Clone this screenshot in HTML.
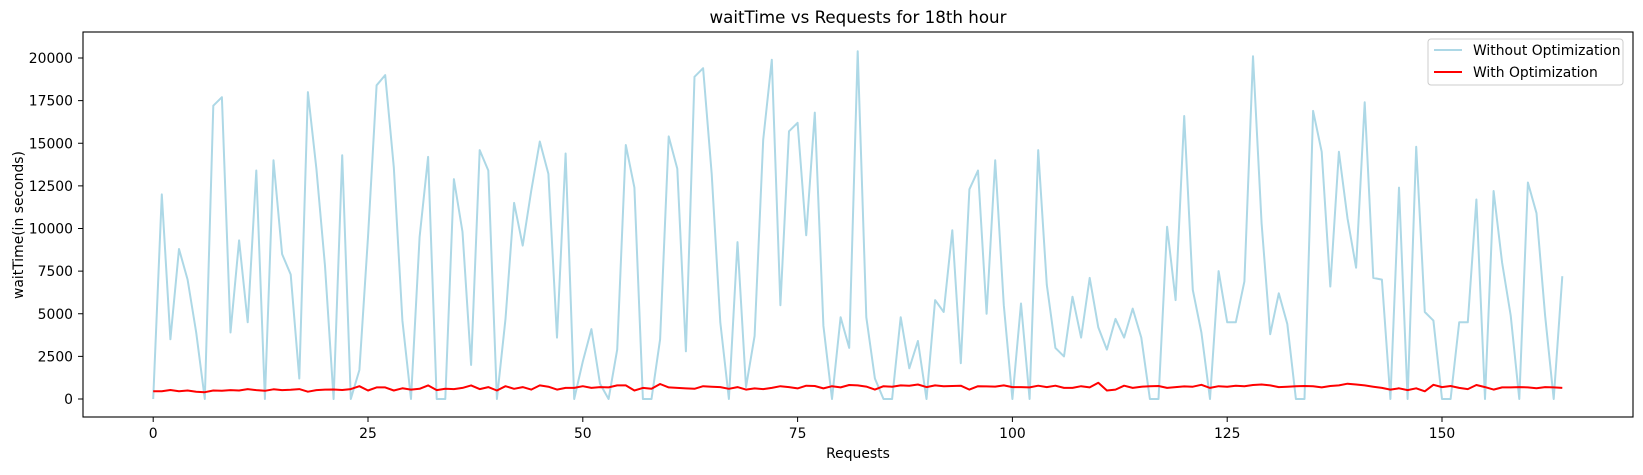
<!DOCTYPE html>
<html><head><meta charset="utf-8"><style>
body{margin:0;background:#fff;}
svg text{font-family:"DejaVu Sans","Liberation Sans",sans-serif;fill:#000;}
</style></head><body>
<svg id="chart" width="1643" height="470" xmlns="http://www.w3.org/2000/svg">
<rect width="1643" height="470" fill="#fff"/>
<text x="858" y="23" font-size="16.7" text-anchor="middle">waitTime vs Requests for 18th hour</text>
<g id="yticks"></g><g id="xticks"></g>
<g id="series"></g>
<rect x="83" y="32" width="1550" height="385" fill="none" stroke="#000" stroke-width="1.1"/>
<text x="858" y="458" font-size="13.9" text-anchor="middle">Requests</text>
<text transform="translate(23,225) rotate(-90)" font-size="13.9" text-anchor="middle">waitTime(in seconds)</text>
<g>
<rect x="1428" y="39" width="195" height="46" rx="3" fill="#fff" fill-opacity="0.8" stroke="#ccc"/>
<line x1="1434" y1="50" x2="1462" y2="50" stroke="#add8e6" stroke-width="2"/>
<text x="1473" y="55" font-size="13.9">Without Optimization</text>
<line x1="1434" y1="72" x2="1462" y2="72" stroke="#ff0000" stroke-width="2"/>
<text x="1473" y="77" font-size="13.9">With Optimization</text>
</g>
</svg>
<script>
const withoutOpt=[0,12000,3500,8800,7000,3900,0,17200,17700,3900,9300,4500,13400,0,14000,8500,7300,1200,18000,13500,7800,0,14300,0,1700,9500,18400,19000,13600,4600,0,9500,14200,0,0,12900,9800,2000,14600,13400,0,4700,11500,9000,12200,15100,13200,3600,14400,0,2200,4100,900,0,2900,14900,12400,0,0,3500,15400,13500,2800,18900,19400,13200,4500,0,9200,700,3700,15200,19900,5500,15700,16200,9600,16800,4300,0,4800,3000,20400,4800,1200,0,0,4800,1800,3400,0,5800,5100,9900,2100,12300,13400,5000,14000,5500,0,5600,0,14600,6700,3000,2500,6000,3600,7100,4200,2900,4700,3600,5300,3600,0,0,10100,5800,16600,6400,3900,0,7500,4500,4500,6900,20100,10300,3800,6200,4400,0,0,16900,14500,6600,14500,10600,7700,17400,7100,7000,0,12400,0,14800,5100,4600,0,0,4500,4500,11700,0,12200,8000,4900,0,12700,10900,4900,0,7200];
const withOpt=[450,450,530,450,500,430,400,500,480,520,500,580,520,480,570,520,540,580,430,520,550,560,530,580,750,500,680,680,500,630,550,600,800,520,600,580,650,800,580,700,500,750,600,700,550,800,720,550,650,650,750,650,700,680,800,800,500,650,600,880,680,650,620,600,750,720,700,600,700,550,620,580,650,750,700,620,780,760,620,750,680,820,800,730,550,750,720,800,780,850,700,800,750,760,780,550,750,740,730,800,700,700,680,780,700,780,650,650,750,680,950,500,550,780,650,720,750,760,650,700,740,720,830,650,750,720,780,750,820,850,800,700,720,750,760,750,680,760,800,900,850,800,720,650,550,630,520,630,450,830,700,760,650,580,820,700,550,680,680,700,680,630,700,680,650];
const xTicks=[0,25,50,75,100,125,150];
const yTicks=[0,2500,5000,7500,10000,12500,15000,17500,20000];
const NS='http://www.w3.org/2000/svg';
function xs(v){return 153.2+v*8.592;}
function ys(v){return 399-v*0.01705;}
function mk(tag,attrs,parent){const e=document.createElementNS(NS,tag);for(const k in attrs)e.setAttribute(k,attrs[k]);parent.appendChild(e);return e;}
const yg=document.getElementById('yticks'),xg=document.getElementById('xticks'),sg=document.getElementById('series');
yTicks.forEach(t=>{
  const l=mk('line',{x1:78,x2:83,y1:ys(t),y2:ys(t),stroke:'#000'},yg);
  
  
  const tx=mk('text',{x:73,y:ys(t)+5,'font-size':13.9,'text-anchor':'end'},yg);
  tx.textContent=t;
  
  
});
xTicks.forEach(t=>{
  const l=mk('line',{x1:xs(t),x2:xs(t),y1:417,y2:422,stroke:'#000'},xg);
  
  
  const tx=mk('text',{x:xs(t),y:438,'font-size':13.9,'text-anchor':'middle'},xg);
  tx.textContent=t;
  
  
});
function line(arr){return arr.map((v,i)=>(i?'L':'M')+xs(i).toFixed(1)+','+ys(v).toFixed(1)).join('');}
const p1=mk('path',{d:line(withoutOpt),fill:'none',stroke:'#add8e6','stroke-width':2,'stroke-linejoin':'round'},sg);


const p2=mk('path',{d:line(withOpt.slice(0,withoutOpt.length)),fill:'none',stroke:'#ff0000','stroke-width':2,'stroke-linejoin':'round'},sg);


</script>
</body></html>
